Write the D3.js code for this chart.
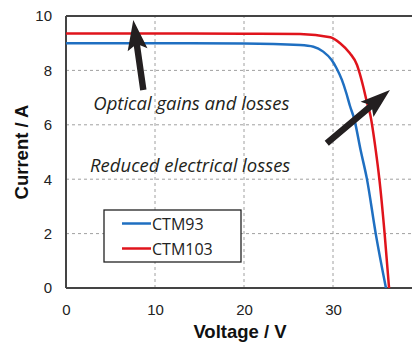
<!DOCTYPE html>
<html>
<head>
<meta charset="utf-8">
<script src="https://cdn.jsdelivr.net/npm/d3@7"></script>
<style>
  body { margin: 0; background: #fff; }
  svg { display: block; }
</style>
</head>
<body>
<script>
// I-V curves (voltage in V, current in A)
var ctm93V = [0, 10, 20, 26.3, 27.8, 28.9, 29.85, 30.4, 31.0, 31.5, 31.9, 32.4, 33.1, 33.8, 34.8, 35.95];
var ctm93I = [9.0, 9.0, 8.99, 8.93, 8.87, 8.69, 8.38, 8.08, 7.65, 7.16, 6.7, 6.2, 5.07, 4.03, 2.0, 0];
var ctm103V = [0, 10, 20, 26.3, 29.7, 30.8, 31.9, 32.7, 33.0, 33.4, 33.8, 34.2, 34.8, 35.2, 35.8, 36.3];
var ctm103I = [9.36, 9.36, 9.35, 9.34, 9.22, 9.0, 8.63, 8.2, 7.89, 7.4, 6.85, 6.35, 5.07, 4.03, 2.0, 0];
var seriesNames = ["CTM93", "CTM103"];
var seriesColors = ["#1f6fc1", "#e0141c"];
var xTicks = [0, 10, 20, 30];
var yTicks = [0, 2, 4, 6, 8, 10];

var width = 412, height = 349;
var margin = { left: 66, top: 16, bottom: 61 };

var svg = d3.select("body").append("svg")
    .attr("width", width)
    .attr("height", height)
    .style("font-family", "'Liberation Sans', Arial, sans-serif");

var x = d3.scaleLinear().domain([0, 40]).range([margin.left, margin.left + 356]);
var y = d3.scaleLinear().domain([0, 10]).range([height - margin.bottom, margin.top]);

// grid
svg.append("g").selectAll("line.v")
    .data(xTicks.slice(1))
    .enter().append("line")
    .attr("x1", function (d) { return x(d); })
    .attr("x2", function (d) { return x(d); })
    .attr("y1", y(0)).attr("y2", y(10))
    .style("stroke", "#a0a0a0").style("stroke-dasharray", "3,3");

svg.append("g").selectAll("line.h")
    .data(yTicks.slice(1, -1))
    .enter().append("line")
    .attr("x1", x(0)).attr("x2", width)
    .attr("y1", function (d) { return y(d); })
    .attr("y2", function (d) { return y(d); })
    .style("stroke", "#a0a0a0").style("stroke-dasharray", "3,3");

// axes
var xAxis = svg.append("g")
    .attr("transform", "translate(0," + y(0) + ")")
    .call(d3.axisBottom(x).tickValues(xTicks).tickSize(0).tickPadding(16));
var yAxis = svg.append("g")
    .attr("transform", "translate(" + x(0) + ",0)")
    .call(d3.axisLeft(y).tickValues(yTicks).tickSize(0).tickPadding(14));

[xAxis, yAxis].forEach(function (a) {
    a.select(".domain").remove();
    a.selectAll("text")
        .style("font-family", "'Liberation Sans', Arial, sans-serif")
        .style("font-size", "15px")
        .style("fill", "#222");
});

// frame lines
svg.append("line").attr("x1", x(0)).attr("x2", width).attr("y1", y(0)).attr("y2", y(0))
    .style("stroke", "#444").style("stroke-width", 2);
svg.append("line").attr("x1", x(0)).attr("x2", width).attr("y1", y(10)).attr("y2", y(10))
    .style("stroke", "#444").style("stroke-width", 2);
svg.append("line").attr("x1", x(0)).attr("x2", x(0)).attr("y1", y(0)).attr("y2", y(10))
    .style("stroke", "#444").style("stroke-width", 2);

// curves
var line = d3.line()
    .x(function (d) { return x(d[0]); })
    .y(function (d) { return y(d[1]); })
    .curve(d3.curveMonotoneX);

var series = [d3.zip(ctm93V, ctm93I), d3.zip(ctm103V, ctm103I)];
svg.append("g").selectAll("path")
    .data(series)
    .enter().append("path")
    .attr("d", function (d) { return line(d); })
    .style("fill", "none")
    .style("stroke", function (d, i) { return seriesColors[i]; })
    .style("stroke-width", 2.5);

// annotations
function arrow(v0, i0, v1, i1) {
    var x0 = x(v0), y0 = y(i0), x1 = x(v1), y1 = y(i1);
    var len = Math.hypot(x1 - x0, y1 - y0);
    var ang = Math.atan2(y1 - y0, x1 - x0) * 180 / Math.PI;
    var hl = 26, hw = 10, sw = 3.2;
    var pts = [[0, -sw], [len - hl, -sw], [len - hl - 4, -hw], [len, 0],
               [len - hl - 4, hw], [len - hl, sw], [0, sw]];
    svg.append("path")
        .attr("d", "M" + pts.join("L") + "Z")
        .attr("transform", "translate(" + x0 + "," + y0 + ") rotate(" + ang + ")")
        .style("fill", "#231f20");
}
arrow(8.69, 7.28, 7.56, 9.85);
arrow(29.3, 5.32, 36.4, 7.28);

var notes = svg.append("g")
    .style("font-family", "'Open Sans', sans-serif")
    .style("font-style", "italic")
    .style("font-size", "18.5px")
    .style("fill", "#231f20");
notes.append("text").attr("x", x(3.07)).attr("y", y(6.54)).text("Optical gains and losses");
notes.append("text").attr("x", x(2.7)).attr("y", y(4.28)).text("Reduced electrical losses");

// legend
var legend = svg.append("g");
legend.append("rect")
    .attr("x", 104).attr("y", 210).attr("width", 137).attr("height", 52)
    .style("fill", "#fff").style("stroke", "#222").style("stroke-width", 1.3);
seriesNames.forEach(function (name, i) {
    var ly = 223.5 + i * 25;
    legend.append("line")
        .attr("x1", 122).attr("x2", 151).attr("y1", ly).attr("y2", ly)
        .style("stroke", seriesColors[i]).style("stroke-width", 2.5);
    legend.append("text")
        .attr("x", 152).attr("y", ly + 6)
        .style("font-family", "'Open Sans', sans-serif")
        .style("font-size", "16px")
        .style("fill", "#222")
        .text(name);
});

// axis titles
svg.append("text")
    .attr("x", 240).attr("y", 338)
    .attr("text-anchor", "middle")
    .style("font-weight", "bold").style("font-size", "18.5px").style("fill", "#111")
    .text("Voltage  / V");
svg.append("text")
    .attr("transform", "translate(28," + y(5) + ") rotate(-90)")
    .attr("text-anchor", "middle")
    .style("font-weight", "bold").style("font-size", "18.5px").style("fill", "#111")
    .text("Current / A");
</script>
</body>
</html>
